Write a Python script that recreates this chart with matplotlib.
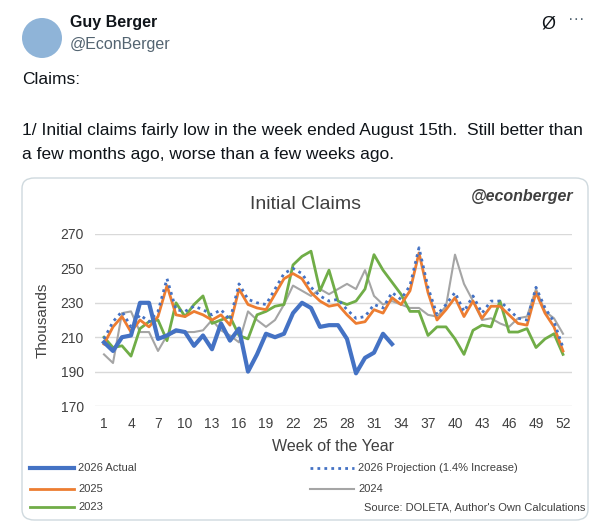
import numpy as np
import matplotlib.pyplot as plt
from matplotlib.patches import FancyBboxPatch, Ellipse
from matplotlib.lines import Line2D

plt.rcParams['font.family'] = ['Liberation Sans', 'DejaVu Sans']

weeks = np.arange(1, 53)
actual_2026 = [207, 202, 210, 211, 230, 230, 209, 211, 214, 213, 205, 211, 203, 218, 208, 215,
               190, 200, 212, 210, 212, 224, 230, 227, 216, 217, 217, 209, 189, 198, 201, 212, 206]
y2025 = [206, 216, 222, 213, 220, 216, 222, 240, 223, 222, 225, 223, 220, 223, 217, 238,
         229, 227, 226, 235, 244, 247, 244, 236, 231, 228, 229, 223, 218, 219, 226, 224,
         233, 229, 237, 259, 236, 220, 226, 233, 222, 231, 221, 228, 228, 223, 218, 217,
         236, 224, 216, 202]
proj_2026 = [209, 219, 225, 216, 223, 219, 225, 244, 226, 225, 228, 226, 223, 226, 220, 241,
             232, 230, 229, 238, 247, 250, 247, 239, 234, 231, 232, 226, 221, 222, 229, 227,
             236, 232, 240, 262, 239, 223, 229, 236, 225, 234, 224, 231, 231, 226, 221, 220,
             239, 227, 219, 204]
y2024 = [200, 195, 224, 225, 213, 213, 202, 211, 213, 213, 213, 214, 220, 214, 211, 207,
         225, 220, 216, 220, 229, 240, 237, 234, 238, 235, 238, 241, 238, 249, 234, 229,
         231, 229, 227, 227, 223, 222, 228, 258, 241, 231, 220, 221, 218, 216, 221, 222,
         238, 225, 221, 212]
y2023 = [210, 204, 205, 199, 215, 219, 220, 208, 230, 222, 229, 234, 218, 220, 222, 211,
         209, 223, 225, 228, 229, 252, 257, 260, 237, 249, 231, 229, 231, 238, 258, 249,
         242, 235, 225, 225, 211, 216, 216, 209, 200, 214, 217, 216, 231, 213, 213, 215,
         204, 209, 212, 200]

BLUE = '#4472c4'
ORANGE = '#ed7d31'
GRAY = '#a5a5a5'
GREEN = '#70ad47'

W, H = 615, 528
fig = plt.figure(figsize=(W / 100, H / 100), dpi=100)
fig.patch.set_facecolor('white')

def fx(px):
    return px / W

def fy(py):
    return 1 - py / H

# tweet header
fig.patches.append(Ellipse((fx(42), fy(38)), 40 / W, 40 / H, transform=fig.transFigure,
                           facecolor='#8fb4d8', edgecolor='none'))
fig.text(fx(70), fy(22), 'Guy Berger', fontsize=11.5, fontweight='bold', va='center', color='#0f1419')
fig.text(fx(70), fy(44), '@EconBerger', fontsize=11.5, va='center', color='#536471')
fig.text(fx(548), fy(24), 'Ø', fontsize=13, va='center', ha='center', color='#0f1419')
fig.text(fx(576), fy(20), '···', fontsize=12, va='center', ha='center', color='#536471')
fig.text(fx(22), fy(80), 'Claims:', fontsize=12.5, va='center', color='#0f1419')
fig.text(fx(22), fy(130), '1/ Initial claims fairly low in the week ended August 15th.  Still better than',
         fontsize=12.5, va='center', color='#0f1419')
fig.text(fx(22), fy(154), 'a few months ago, worse than a few weeks ago.', fontsize=12.5, va='center', color='#0f1419')

# chart card
card = FancyBboxPatch((fx(22), fy(520)), fx(566), (520 - 178) / H,
                      boxstyle='round,pad=0,rounding_size=0.02',
                      transform=fig.transFigure, facecolor='white',
                      edgecolor='#cfd9de', linewidth=1, zorder=-1)
fig.patches.append(card)

ax = fig.add_axes([fx(95), fy(406), fx(477), (406 - 234) / H])
ax.set_facecolor('none')
ax.plot(weeks, y2024, color=GRAY, lw=1.5)
ax.plot(weeks, y2023, color=GREEN, lw=2)
ax.plot(weeks, y2025, color=ORANGE, lw=2)
ax.plot(weeks, proj_2026, color=BLUE, lw=2, linestyle=(0, (1, 1.5)))
ax.plot(weeks[:len(actual_2026)], actual_2026, color=BLUE, lw=3)

ax.set_xlim(0, 53)
ax.set_ylim(170, 270)
ax.set_yticks(np.arange(170, 271, 20))
ax.set_xticks(np.arange(1, 53, 3))
ax.grid(axis='y', color='#d9d9d9', lw=1)
ax.set_axisbelow(True)
for s in ax.spines.values():
    s.set_visible(False)
ax.tick_params(length=0, labelsize=10, colors='#404040', pad=8)
ax.set_ylabel('Thousands', fontsize=11, color='#404040', labelpad=8)
ax.set_xlabel('Week of the Year', fontsize=11.5, color='#404040', labelpad=6)

fig.text(fx(305), fy(205), 'Initial Claims', fontsize=14, ha='center', va='center', color='#404040')
fig.text(fx(522), fy(197), '@econberger', fontsize=11.5, ha='center', va='center',
         fontweight='bold', fontstyle='italic', color='#404040')

# legend
def leg(x0, y, color, text, ls='-', lw=2):
    fig.lines.append(Line2D([fx(x0), fx(x0 + 44)], [fy(y), fy(y)], transform=fig.transFigure,
                            color=color, lw=lw, linestyle=ls))
    fig.text(fx(x0 + 48), fy(y), text, fontsize=8, va='center', color='#404040')

leg(30, 468, BLUE, '2026 Actual', lw=3)
leg(30, 489, ORANGE, '2025')
leg(30, 507, GREEN, '2023')
leg(310, 468, BLUE, '2026 Projection (1.4% Increase)', ls=(0, (1, 1.5)))
leg(310, 489, GRAY, '2024', lw=1.5)
fig.text(fx(585), fy(507), "Source: DOLETA, Author's Own Calculations", fontsize=8,
         ha='right', va='center', color='#404040')

fig.savefig('out.png', dpi=100)
